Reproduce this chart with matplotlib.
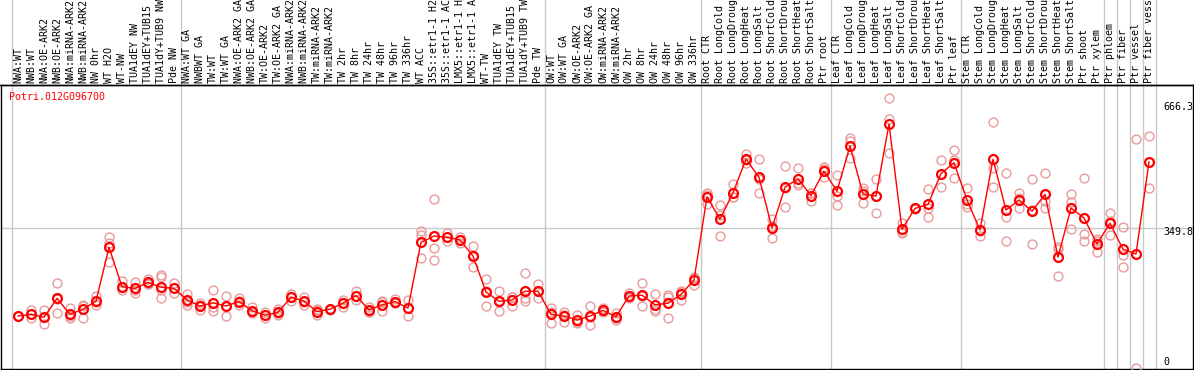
import matplotlib
matplotlib.use("Agg")
import matplotlib.pyplot as plt
import matplotlib.transforms as mtransforms

# ---- data ----
gene_id = "Potri.012G096700"

labels = [
    "NWA:WT", "NWB:WT", "NWA:OE-ARK2", "NWB:OE-ARK2", "NWA:miRNA-ARK2",
    "NWB:miRNA-ARK2", "NW 0hr", "WT H2O", "WT-NW", "TUA1dEY NW",
    "TUA1dEY+TUB15 NW", "TUA1dY+TUB9 NW", "Pde NW",
    "NWA:WT GA", "NWBWT GA", "TW:WT", "TW:WT GA", "NWA:OE-ARK2 GA",
    "NWB:OE-ARK2 GA", "TW:OE-ARK2", "TW:OE-ARK2 GA", "NWA:miRNA-ARK2 GA",
    "NWB:miRNA-ARK2 GA", "TW:miRNA-ARK2", "TW:miRNA-ARK2", "TW 2hr", "TW 8hr",
    "TW 24hr", "TW 48hr", "TW 96hr", "TW 336hr", "WT ACC", "35S::etr1-1 H2O",
    "35S::etr1-1 ACC", "LMX5::etr1-1 H2O", "LMX5::etr1-1 ACC", "WT-TW",
    "TUA1dEY TW", "TUA1dEY+TUB15 TW", "TUA1dY+TUB9 TW", "Pde TW",
    "OW:WT", "OW:WT GA", "OW:OE-ARK2", "OW:OE-ARK2 GA", "OW:miRNA-ARK2",
    "OW:miRNA-ARK2", "OW 2hr", "OW 8hr", "OW 24hr", "OW 48hr", "OW 96hr",
    "OW 336hr",
    "Root CTR", "Root LongCold", "Root LongDrought", "Root LongHeat",
    "Root LongSalt", "Root ShortCold", "Root ShortDrought", "Root ShortHeat",
    "Root ShortSalt", "Ptr root",
    "Leaf CTR", "Leaf LongCold", "Leaf LongDrought", "Leaf LongHeat",
    "Leaf LongSalt", "Leaf ShortCold", "Leaf ShortDrought", "Leaf ShortHeat",
    "Leaf ShortSalt", "Ptr leaf",
    "Stem CTR", "Stem LongCold", "Stem LongDrought", "Stem LongHeat",
    "Stem LongSalt", "Stem ShortCold", "Stem ShortDrought", "Stem ShortHeat",
    "Stem ShortSalt", "Ptr shoot", "Ptr xylem",
    "Ptr phloem", "Ptr fiber", "Ptr vessel", "Ptr fiber vessel",
]

means = [
    130, 134, 127, 174, 134, 147, 167, 302, 203, 199, 214, 202, 199,
    170, 155, 163, 155, 166, 143, 132, 139, 177, 167, 141, 147, 162, 181,
    145, 158, 166, 150, 314, 330, 327, 320, 280, 190, 167, 170, 192, 192,
    134, 130, 120, 130, 144, 128, 180, 182, 158, 162, 184, 220,
    428, 372, 438, 522, 477, 350, 452, 473, 431, 492,
    442, 555, 435, 430, 610, 347, 399, 409, 486, 513,
    420, 345, 522, 395, 420, 392, 434, 277, 400, 375, 310,
    362, 297, 285, 515,
]

replicates = [
    [130, 131, 129], [145, 124, 134], [145, 109, 127], [212, 137, 173],
    [149, 124, 129], [157, 124, 155], [180, 157, 164], [328, 312, 266],
    [217, 195, 203], [214, 187, 196], [222, 210, 210], [232, 228, 195, 174],
    [212, 188, 199],
    [185, 157, 166], [162, 145, 158], [195, 153, 143], [180, 130, 155],
    [174, 157, 167], [152, 137, 140], [140, 124, 132], [147, 137, 133],
    [185, 168, 178], [177, 158, 166], [147, 132, 144], [148, 146, 147],
    [170, 153, 163], [193, 170, 180], [153, 141, 141], [167, 143, 164],
    [172, 163, 163], [170, 130, 150], [343, 333, 274], [422, 299, 270],
    [337, 318, 327], [328, 313, 320], [305, 252, 283], [222, 155, 193],
    [192, 143, 166], [178, 155, 177], [237, 174, 168], [210, 174, 192],
    [149, 113, 140], [141, 116, 133], [116, 112, 132], [155, 108, 127],
    [149, 141, 142], [138, 120, 126], [188, 178, 174], [212, 155, 179],
    [184, 143, 147], [182, 126, 178], [193, 170, 189], [228, 208, 224],
    [438, 410, 433], [407, 382, 330], [460, 427, 427], [535, 512, 519],
    [522, 437, 472], [372, 324, 354], [505, 402, 449], [499, 457, 463],
    [437, 418, 438], [502, 477, 497],
    [482, 430, 407], [574, 568, 524], [449, 413, 443], [472, 387, 431],
    [674, 622, 537], [341, 337, 363], [397, 400, 401], [447, 399, 377],
    [520, 452, 486], [545, 474, 520],
    [449, 402, 409], [362, 330, 343], [614, 453, 499], [487, 378, 318],
    [437, 399, 424], [472, 309, 395], [487, 399, 417], [297, 231, 303],
    [435, 416, 347], [474, 335, 318], [322, 291, 317],
    [387, 332, 367], [353, 282, 252], [572, 0], [580, 449],
]

# group boundaries (index after which a separator is drawn)
group_breaks = [-1, 12, 40, 52, 62, 72, 83, 84, 85, 86, 87]
tick_values = [0, 349.8, 666.3]
tick_texts = ["0", "349.8", "666.3"]

# ---- figure ----
W, H = 1194, 370
fig = plt.figure(figsize=(W / 100, H / 100), dpi=100)
ax = fig.add_axes([1 / W, 1 / H, 1192 / W, 284 / H])

red = "#ff0000"
pink = "#e99a9a"
grey = "#c8c8c8"
mono = "DejaVu Sans Mono"

x = list(range(len(labels)))

# replicates
for i, vals in enumerate(replicates):
    ax.plot([i] * len(vals), vals, linestyle="none", marker="o", ms=6.4,
            mfc="none", mec=pink, mew=1.0, zorder=3)

# mean line
ax.plot(x, means, color=red, lw=1.0, marker="o", ms=6.4, mfc="none",
        mec=red, mew=1.6, zorder=4)

ax.set_xlim(-17 / 13, 1175 / 13)
ax.set_ylim(-2.5, 707.5)
ax.set_xticks([])
ax.set_yticks([])
for s in ax.spines.values():
    s.set_color("black")
    s.set_linewidth(1.0)

# horizontal grid line at the middle tick
ax.axhline(tick_values[1], color=grey, lw=1.0, zorder=1)

# vertical separators running through the header too
blend = mtransforms.blended_transform_factory(ax.transData, fig.transFigure)
for b in group_breaks:
    ax.plot([b + 0.5, b + 0.5], [0, 1], color=grey, lw=1.0,
            transform=blend, clip_on=False, zorder=1)

# rotated column labels
for i, lab in enumerate(labels):
    ax.text(i, 1 - 83 / H, lab, rotation=90, ha="center", va="bottom",
            fontsize=7.2, family=mono, color="black", transform=blend,
            clip_on=False)

# header line across the full width
fig.add_artist(plt.Line2D([0, 1], [1 - 85 / H, 1 - 85 / H], color="black",
                          lw=1.0, transform=fig.transFigure))

# gene id
fig.text(9 / W, 1 - 97 / H, gene_id, color=red, fontsize=7.2, family=mono,
         ha="left", va="center")

# right-side value labels
label_y = [362, 232, 107]
for t, py in zip(tick_texts, label_y):
    fig.text(1163 / W, 1 - py / H, t, color="black", fontsize=7.2,
             family=mono, ha="left", va="center")

fig.savefig("out.png", dpi=100)
